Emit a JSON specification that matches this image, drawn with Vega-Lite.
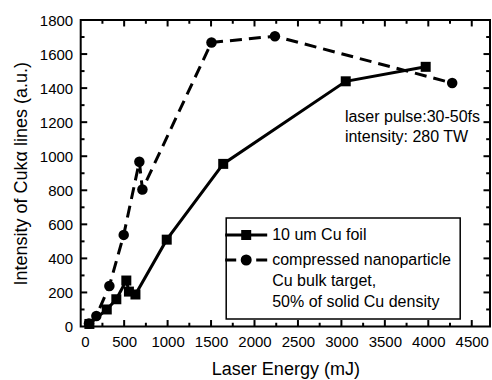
{
  "$schema": "https://vega.github.io/schema/vega-lite/v6.json",
  "width": 409.3,
  "height": 306.5,
  "autosize": {"type": "none"},
  "padding": {"left": 80.7, "top": 20, "right": 2, "bottom": 53.5},
  "background": "white",
  "config": {
    "font": "Liberation Sans",
    "view": {"stroke": "black", "strokeWidth": 2},
    "style": {"guide-label": {"lineHeight": 21}},
    "axis": {
      "ticks": false,
      "domain": false,
      "grid": false,
      "labelColor": "black",
      "titleColor": "black",
      "labelFont": "Liberation Sans",
      "titleFont": "Liberation Sans",
      "labelFontSize": 15,
      "titleFontSize": 18,
      "titleFontWeight": "normal",
      "format": "d"
    },
    "legend": {"strokeWidth": 1.5}
  },
  "datasets": {
    "points": [
      {"series": "foil", "energy": 100, "intensity": 15},
      {"series": "foil", "energy": 300, "intensity": 100},
      {"series": "foil", "energy": 410, "intensity": 160},
      {"series": "foil", "energy": 525, "intensity": 270},
      {"series": "foil", "energy": 555, "intensity": 205},
      {"series": "foil", "energy": 630, "intensity": 188},
      {"series": "foil", "energy": 990, "intensity": 510},
      {"series": "foil", "energy": 1640, "intensity": 955},
      {"series": "foil", "energy": 3050, "intensity": 1440},
      {"series": "foil", "energy": 3970, "intensity": 1525},
      {"series": "nano", "energy": 95, "intensity": 18},
      {"series": "nano", "energy": 180, "intensity": 62},
      {"series": "nano", "energy": 330, "intensity": 238},
      {"series": "nano", "energy": 495, "intensity": 538},
      {"series": "nano", "energy": 675, "intensity": 968},
      {"series": "nano", "energy": 710, "intensity": 805},
      {"series": "nano", "energy": 1505, "intensity": 1668},
      {"series": "nano", "energy": 2235, "intensity": 1705},
      {"series": "nano", "energy": 4275, "intensity": 1430}
    ],
    "xticks": [
      {"v": 500, "kind": "major"}, {"v": 1000, "kind": "major"}, {"v": 1500, "kind": "major"},
      {"v": 2000, "kind": "major"}, {"v": 2500, "kind": "major"}, {"v": 3000, "kind": "major"},
      {"v": 3500, "kind": "major"}, {"v": 4000, "kind": "major"}, {"v": 4500, "kind": "major"},
      {"v": 250, "kind": "minor"}, {"v": 750, "kind": "minor"}, {"v": 1250, "kind": "minor"},
      {"v": 1750, "kind": "minor"}, {"v": 2250, "kind": "minor"}, {"v": 2750, "kind": "minor"},
      {"v": 3250, "kind": "minor"}, {"v": 3750, "kind": "minor"}, {"v": 4250, "kind": "minor"}
    ],
    "yticks": [
      {"v": 200, "kind": "major"}, {"v": 400, "kind": "major"}, {"v": 600, "kind": "major"},
      {"v": 800, "kind": "major"}, {"v": 1000, "kind": "major"}, {"v": 1200, "kind": "major"},
      {"v": 1400, "kind": "major"}, {"v": 1600, "kind": "major"},
      {"v": 100, "kind": "minor"}, {"v": 300, "kind": "minor"}, {"v": 500, "kind": "minor"},
      {"v": 700, "kind": "minor"}, {"v": 900, "kind": "minor"}, {"v": 1100, "kind": "minor"},
      {"v": 1300, "kind": "minor"}, {"v": 1500, "kind": "minor"}, {"v": 1700, "kind": "minor"}
    ]
  },
  "layer": [
    {
      "data": {"name": "points"},
      "transform": [{"filter": "datum.series == 'foil'"}],
      "mark": {"type": "line", "color": "black", "strokeWidth": 3},
      "encoding": {
        "x": {"field": "energy", "type": "quantitative", "scale": {"domain": [0, 4710], "nice": false},
          "axis": {"orient": "bottom", "title": "Laser Energy (mJ)", "format": "d", "values": [0,500,1000,1500,2000,2500,3000,3500,4000,4500], "labelPadding": 8, "titlePadding": 11}},
        "y": {"field": "intensity", "type": "quantitative", "scale": {"domain": [0, 1800], "nice": false},
          "axis": {"orient": "left", "title": "Intensity of Cukα lines (a.u.)", "format": "d", "values": [0,200,400,600,800,1000,1200,1400,1600,1800], "labelPadding": 8, "titlePadding": 9}}
      }
    },
    {
      "data": {"name": "points"},
      "transform": [{"filter": "datum.series == 'nano'"}],
      "mark": {"type": "line", "color": "black", "strokeWidth": 3, "strokeDash": [12, 7]},
      "encoding": {
        "x": {"field": "energy", "type": "quantitative", "axis": null},
        "y": {"field": "intensity", "type": "quantitative", "axis": null}
      }
    },
    {
      "data": {"name": "points"},
      "transform": [{"filter": "datum.series == 'foil'"}],
      "mark": {"type": "point", "shape": "square", "filled": true, "color": "black", "size": 100, "opacity": 1},
      "encoding": {
        "x": {"field": "energy", "type": "quantitative", "axis": null},
        "y": {"field": "intensity", "type": "quantitative", "axis": null}
      }
    },
    {
      "data": {"name": "points"},
      "transform": [{"filter": "datum.series == 'nano'"}],
      "mark": {"type": "point", "shape": "circle", "filled": true, "color": "black", "size": 110, "opacity": 1},
      "encoding": {
        "x": {"field": "energy", "type": "quantitative", "axis": null},
        "y": {"field": "intensity", "type": "quantitative", "axis": null}
      }
    },
    {
      "data": {"name": "xticks"},
      "transform": [{"filter": "datum.kind == 'major'"}],
      "mark": {"type": "rule", "color": "black", "strokeWidth": 2},
      "encoding": {
        "x": {"field": "v", "type": "quantitative", "axis": null},
        "y": {"datum": 0, "type": "quantitative", "axis": null},
        "y2": {"datum": 38}
      }
    },
    {
      "data": {"name": "xticks"},
      "transform": [{"filter": "datum.kind == 'major'"}],
      "mark": {"type": "rule", "color": "black", "strokeWidth": 2},
      "encoding": {
        "x": {"field": "v", "type": "quantitative", "axis": null},
        "y": {"datum": 1800, "type": "quantitative", "axis": null},
        "y2": {"datum": 1762}
      }
    },
    {
      "data": {"name": "xticks"},
      "transform": [{"filter": "datum.kind == 'minor'"}],
      "mark": {"type": "rule", "color": "black", "strokeWidth": 2},
      "encoding": {
        "x": {"field": "v", "type": "quantitative", "axis": null},
        "y": {"datum": 0, "type": "quantitative", "axis": null},
        "y2": {"datum": 22}
      }
    },
    {
      "data": {"name": "xticks"},
      "transform": [{"filter": "datum.kind == 'minor'"}],
      "mark": {"type": "rule", "color": "black", "strokeWidth": 2},
      "encoding": {
        "x": {"field": "v", "type": "quantitative", "axis": null},
        "y": {"datum": 1800, "type": "quantitative", "axis": null},
        "y2": {"datum": 1778}
      }
    },
    {
      "data": {"name": "yticks"},
      "transform": [{"filter": "datum.kind == 'major'"}],
      "mark": {"type": "rule", "color": "black", "strokeWidth": 2},
      "encoding": {
        "y": {"field": "v", "type": "quantitative", "axis": null},
        "x": {"datum": 0, "type": "quantitative", "axis": null},
        "x2": {"datum": 75}
      }
    },
    {
      "data": {"name": "yticks"},
      "transform": [{"filter": "datum.kind == 'major'"}],
      "mark": {"type": "rule", "color": "black", "strokeWidth": 2},
      "encoding": {
        "y": {"field": "v", "type": "quantitative", "axis": null},
        "x": {"datum": 4710, "type": "quantitative", "axis": null},
        "x2": {"datum": 4635}
      }
    },
    {
      "data": {"name": "yticks"},
      "transform": [{"filter": "datum.kind == 'minor'"}],
      "mark": {"type": "rule", "color": "black", "strokeWidth": 2},
      "encoding": {
        "y": {"field": "v", "type": "quantitative", "axis": null},
        "x": {"datum": 0, "type": "quantitative", "axis": null},
        "x2": {"datum": 44}
      }
    },
    {
      "data": {"name": "yticks"},
      "transform": [{"filter": "datum.kind == 'minor'"}],
      "mark": {"type": "rule", "color": "black", "strokeWidth": 2},
      "encoding": {
        "y": {"field": "v", "type": "quantitative", "axis": null},
        "x": {"datum": 4710, "type": "quantitative", "axis": null},
        "x2": {"datum": 4666}
      }
    },
    {
      "data": {"name": "points"},
      "transform": [{"filter": "false"}],
      "mark": {"type": "point", "filled": false, "fill": "black", "stroke": "black", "strokeWidth": 3, "opacity": 1},
      "encoding": {
        "x": {"field": "energy", "type": "quantitative", "axis": null},
        "y": {"field": "intensity", "type": "quantitative", "axis": null},
        "shape": {
          "field": "series", "type": "nominal",
          "scale": {"domain": ["foil", "nano"], "range": [
            "M-4.2,0H4.2M-0.7,-0.7H0.7V0.7H-0.7Z",
            "M-4.2,0H-2M2,0H4.2M0.8,0A0.8,0.8,0,1,1,-0.8,0A0.8,0.8,0,1,1,0.8,0Z"
          ]},
          "legend": {
            "title": null,
            "orient": "none",
            "legendX": 145.5,
            "legendY": 198,
            "padding": 9,
            "strokeColor": "black",
            "fillColor": "white",
            "symbolSize": 100,
            "symbolOffset": 3,
            "symbolStrokeWidth": 3,
            "labelOffset": 18,
            "labelFontSize": 16,
            "labelColor": "black",
            "labelFont": "Liberation Sans",
            "labelLimit": 400,
            "rowPadding": 5,
            "labelExpr": "datum.label == 'foil' ? '10 um Cu foil' : ['compressed nanoparticle', '\u00a0Cu bulk target,', '\u00a0 50% of solid Cu density\u00a0\u00a0\u00a0\u00a0\u00a0\u00a0\u00a0\u00a0\u00a0\u00a0\u00a0\u00a0']"
          }
        }
      }
    },
    {
      "data": {"values": [{"note": "a"}]},
      "mark": {"type": "text", "align": "left", "baseline": "middle", "fontSize": 16, "lineHeight": 20, "color": "black", "font": "Liberation Sans"},
      "encoding": {
        "x": {"datum": 3040, "type": "quantitative", "axis": null},
        "y": {"datum": 1232, "type": "quantitative", "axis": null},
        "text": {"value": ["laser pulse:30-50fs", "intensity: 280 TW"]}
      }
    }
  ],
  "resolve": {"axis": {"x": "independent", "y": "independent"}}
}
